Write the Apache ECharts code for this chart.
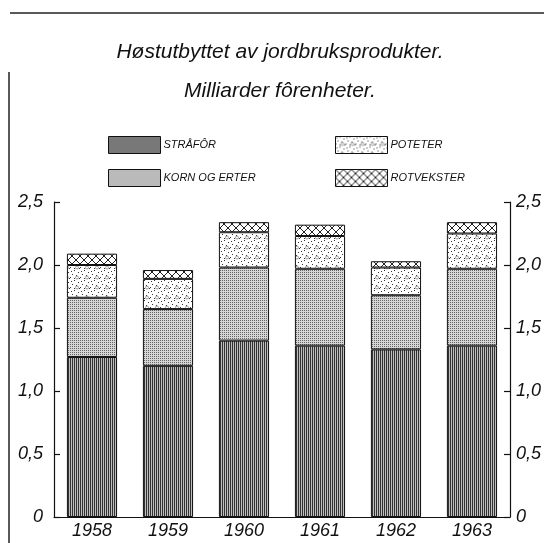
<!DOCTYPE html>
<html>
<head>
<meta charset="utf-8">
<script src="https://cdn.jsdelivr.net/npm/echarts@6/dist/echarts.min.js"></script>
<style>
  html, body { margin: 0; padding: 0; background: #fff; }
  #chart { width: 544px; height: 543px; }
</style>
</head>
<body>
<div id="chart"></div>
<script>
// årstall og verdier (milliarder fôrenheter), lest av figuren
const years = ['1958', '1959', '1960', '1961', '1962', '1963'];
const straafor = [1.27, 1.20, 1.40, 1.36, 1.33, 1.36];
const kornOgErter = [0.47, 0.45, 0.58, 0.61, 0.43, 0.61];
const poteter = [0.26, 0.24, 0.28, 0.26, 0.22, 0.28];
const rotvekster = [0.09, 0.07, 0.08, 0.09, 0.05, 0.09];
const yTicks = [0, 0.5, 1.0, 1.5, 2.0, 2.5];

const FONT = 'Liberation Sans';

// små mønster-fliser for skraveringen
function tile(w, h, draw) {
  const c = document.createElement('canvas');
  c.width = w; c.height = h;
  draw(c.getContext('2d'));
  return { image: c, repeat: 'repeat' };
}
const patStraa = tile(2, 2, ctx => {
  ctx.fillStyle = '#bdbdbd'; ctx.fillRect(0, 0, 2, 2);
  ctx.fillStyle = '#333'; ctx.fillRect(0, 0, 1, 2);
});
const patKorn = tile(2, 2, ctx => {
  ctx.fillStyle = '#d6d6d6'; ctx.fillRect(0, 0, 2, 2);
  ctx.fillStyle = '#666'; ctx.fillRect(0, 0, 1, 1);
});
const patPoteter = tile(10, 10, ctx => {
  ctx.fillStyle = '#fff'; ctx.fillRect(0, 0, 10, 10);
  ctx.fillStyle = '#333';
  [[1, 1], [4, 0], [8, 2], [2, 4], [6, 5], [0, 7], [4, 8], [9, 8]].forEach(p => ctx.fillRect(p[0], p[1], 1, 1));
  ctx.strokeStyle = '#777'; ctx.lineWidth = 0.7;
  ctx.beginPath(); ctx.arc(7, 7.5, 1.5, 0, Math.PI * 2); ctx.stroke();
});
const patRot = tile(8, 8, ctx => {
  ctx.fillStyle = '#fff'; ctx.fillRect(0, 0, 8, 8);
  ctx.strokeStyle = '#222'; ctx.lineWidth = 1;
  ctx.beginPath();
  ctx.moveTo(0, 0); ctx.lineTo(8, 8);
  ctx.moveTo(8, 0); ctx.lineTo(0, 8);
  ctx.stroke();
});

const chart = echarts.init(document.getElementById('chart'));

const fmt = v => (v === 0 ? '0' : v.toFixed(1).replace('.', ','));

function yAxis(pos) {
  return {
    type: 'value',
    position: pos,
    min: 0,
    max: 2.5,
    interval: 0.5,
    splitLine: { show: false },
    axisLine: { show: true, lineStyle: { color: '#111', width: 1.2 } },
    axisTick: { show: true, inside: true, length: 6, lineStyle: { color: '#111', width: 1.2 } },
    axisLabel: {
      margin: pos === 'left' ? 11 : 6,
      color: '#111',
      fontFamily: FONT,
      fontStyle: 'italic',
      fontSize: 18,
      formatter: fmt
    }
  };
}

function bar(name, data, pat) {
  return {
    name: name,
    type: 'bar',
    stack: 'sum',
    data: data,
    barWidth: '66%',
    itemStyle: { color: pat, borderColor: '#111', borderWidth: 1 }
  };
}

const legendBase = {
  orient: 'vertical',
  itemWidth: 52,
  itemHeight: 17,
  itemGap: 15,
  icon: 'rect',
  textStyle: { fontFamily: FONT, fontStyle: 'italic', fontSize: 11, color: '#111', padding: [0, 0, 0, -2] },
  selectedMode: false,
  itemStyle: { borderColor: '#111', borderWidth: 1 }
};

chart.setOption({
  backgroundColor: '#fff',
  animation: false,
  title: {
    text: 'Høstutbyttet av jordbruksprodukter.',
    subtext: 'Milliarder fôrenheter.',
    left: 275,
    textAlign: 'center',
    top: 37,
    itemGap: 18,
    textStyle: { fontFamily: FONT, fontStyle: 'italic', fontWeight: 'normal', fontSize: 21, color: '#111' },
    subtextStyle: { fontFamily: FONT, fontStyle: 'italic', fontSize: 21, color: '#111' }
  },
  legend: [
    Object.assign({}, legendBase, { left: 103, top: 131, data: [
      { name: 'STRÅFÔR', itemStyle: { color: patStraa } },
      { name: 'KORN OG ERTER', itemStyle: { color: patKorn } }
    ] }),
    Object.assign({}, legendBase, { left: 330, top: 131, data: [
      { name: 'POTETER', itemStyle: { color: patPoteter } },
      { name: 'ROTVEKSTER', itemStyle: { color: patRot } }
    ] })
  ],
  grid: { left: 54, right: 32, top: 202, bottom: 26, containLabel: false },
  xAxis: {
    type: 'category',
    data: years,
    axisLine: { lineStyle: { color: '#111', width: 1.2 } },
    axisTick: { show: false },
    axisLabel: {
      margin: 5,
      color: '#111',
      fontFamily: FONT,
      fontStyle: 'italic',
      fontSize: 18
    }
  },
  yAxis: [yAxis('left'), yAxis('right')],
  series: [
    bar('STRÅFÔR', straafor, patStraa),
    bar('KORN OG ERTER', kornOgErter, patKorn),
    bar('POTETER', poteter, patPoteter),
    bar('ROTVEKSTER', rotvekster, patRot)
  ],
  graphic: [
    { type: 'line', shape: { x1: 10, y1: 13, x2: 544, y2: 13 }, style: { stroke: '#222', lineWidth: 1.5 } },
    { type: 'line', shape: { x1: 9, y1: 72, x2: 9, y2: 543 }, style: { stroke: '#222', lineWidth: 1.5 } }
  ]
});
</script>
</body>
</html>
